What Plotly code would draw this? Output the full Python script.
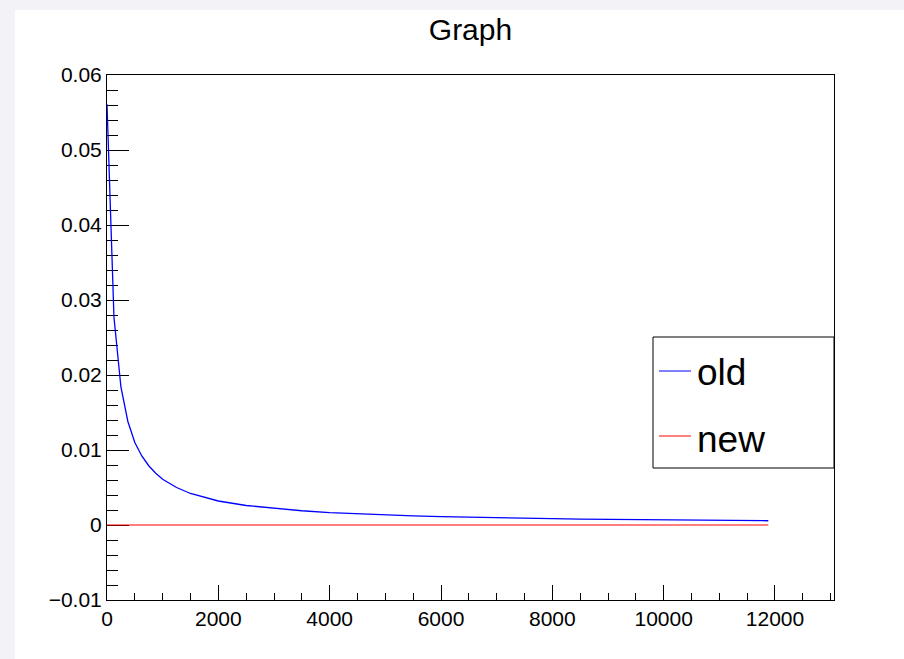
import plotly.graph_objects as go

# ---- data ----
x_vals = [0, 125, 250, 375, 500, 625, 750, 875, 1000, 1250, 1500, 1750, 2000,
          2500, 3000, 3500, 4000, 4500, 5000, 5500, 6000, 6500, 7000, 7500,
          8000, 8500, 9000, 9500, 10000, 10500, 11000, 11500, 11880]
old_vals = [0.0561, 0.0277, 0.0184, 0.0138, 0.0110, 0.0092, 0.0079, 0.0069,
            0.0061, 0.0050, 0.0042, 0.0037, 0.0032, 0.0026, 0.0022, 0.0019,
            0.00166, 0.00148, 0.00134, 0.00122, 0.00112, 0.00103, 0.00096,
            0.00090, 0.00084, 0.00079, 0.00075, 0.00071, 0.00068, 0.00064,
            0.00062, 0.00059, 0.00057]
new_vals = [0.0] * len(x_vals)
series_names = ["old", "new"]
series_colors = ["#0000ff", "#ff0000"]
x_ticks = [0, 2000, 4000, 6000, 8000, 10000, 12000]
x_ticktext = ["0", "2000", "4000", "6000", "8000", "10000", "12000"]
y_ticks = [-0.01, 0, 0.01, 0.02, 0.03, 0.04, 0.05, 0.06]
y_ticktext = ["\u22120.01", "0", "0.01", "0.02", "0.03", "0.04", "0.05", "0.06"]

W, H = 904, 659
L, R, T, B = 107, 834, 75, 600  # plot area in pixels


def px(xp):
    return (xp - L) / (R - L)


def py(yp):
    return (B - yp) / (B - T)


fig = go.Figure()
fig.add_trace(go.Scatter(x=x_vals, y=old_vals, mode="lines", name=series_names[0],
                         line=dict(color=series_colors[0], width=1.3)))
fig.add_trace(go.Scatter(x=x_vals, y=new_vals, mode="lines", name=series_names[1],
                         line=dict(color=series_colors[1], width=1.2)))

shapes = [
    # white canvas
    dict(type="rect", xref="paper", yref="paper", x0=px(15), x1=px(904 + 5),
         y0=py(659 + 5), y1=py(10), fillcolor="white", line=dict(width=0),
         layer="below"),
    # legend box
    dict(type="rect", xref="paper", yref="paper", x0=px(653), x1=px(834),
         y0=py(468), y1=py(337), fillcolor="white",
         line=dict(color="black", width=1)),
    dict(type="line", xref="paper", yref="paper", x0=px(659), x1=px(691),
         y0=py(371), y1=py(371), line=dict(color=series_colors[0], width=1)),
    dict(type="line", xref="paper", yref="paper", x0=px(659), x1=px(691),
         y0=py(436), y1=py(436), line=dict(color=series_colors[1], width=1)),
]

legend_font = dict(family="Liberation Sans, Arial", size=37, color="black")
annotations = [
    dict(text=series_names[0], xref="paper", yref="paper", x=px(695), y=py(372),
         xanchor="left", yanchor="middle", showarrow=False, font=legend_font),
    dict(text=series_names[1], xref="paper", yref="paper", x=px(695), y=py(439),
         xanchor="left", yanchor="middle", showarrow=False, font=legend_font),
]

axis_font = dict(family="Liberation Sans, Arial", size=21, color="black")

fig.update_layout(
    width=W, height=H,
    margin=dict(l=L, r=W - R, t=T, b=H - B, pad=0),
    paper_bgcolor="#f3f2f6",
    plot_bgcolor="white",
    showlegend=False,
    title=dict(text="Graph", x=0.5, xref="paper", xanchor="center",
               y=(H - 29) / H, yref="container", yanchor="middle",
               font=dict(family="Liberation Sans, Arial", size=30, color="black")),
    shapes=shapes,
    annotations=annotations,
    xaxis=dict(range=[0, 13060], tickvals=x_ticks, ticktext=x_ticktext,
               ticks="inside", ticklen=15, layer="below traces",
               tickcolor="black", tickwidth=1, showgrid=False, zeroline=False,
               showline=True, linecolor="black", linewidth=1, mirror=True,
               tickfont=axis_font,
               minor=dict(dtick=500, ticks="inside", ticklen=7,
                          tickcolor="black", tickwidth=1, showgrid=False)),
    yaxis=dict(range=[-0.01, 0.06], tickvals=y_ticks, ticktext=y_ticktext,
               ticks="inside", ticklen=22, layer="below traces",
               tickcolor="black", tickwidth=1, showgrid=False, zeroline=False,
               showline=True, linecolor="black", linewidth=1, mirror=True,
               tickfont=axis_font,
               minor=dict(dtick=0.002, ticks="inside", ticklen=11,
                          tickcolor="black", tickwidth=1, showgrid=False)),
)

fig.write_html("out.html")
